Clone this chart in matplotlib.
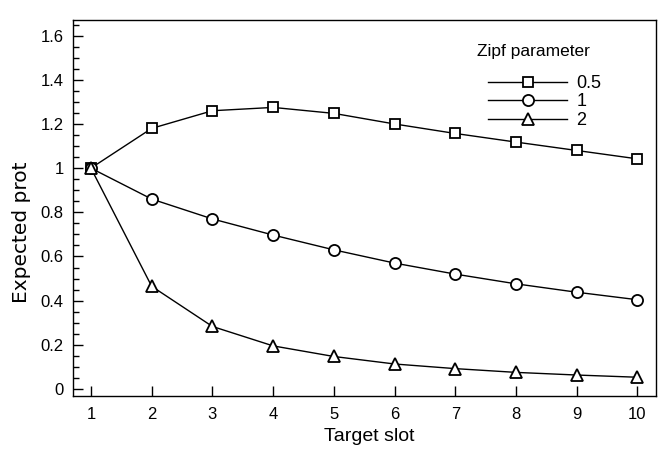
import numpy as np
import matplotlib.pyplot as plt
from matplotlib.ticker import MultipleLocator

plt.rcParams['font.family'] = ['Liberation Sans', 'DejaVu Sans']

slots = np.arange(1, 11)
zipf_labels = ['0.5', '1', '2']
prot_05 = [1.0, 1.18, 1.26, 1.275, 1.248, 1.2, 1.157, 1.118, 1.08, 1.042]
prot_1 = [1.0, 0.86, 0.77, 0.697, 0.63, 0.57, 0.52, 0.476, 0.438, 0.404]
prot_2 = [1.0, 0.465, 0.283, 0.195, 0.147, 0.113, 0.092, 0.075, 0.063, 0.053]
markers = ['s', 'o', '^']

W, H = 661, 449
fig = plt.figure(figsize=(W / 100, H / 100), dpi=100)
ax = fig.add_axes([0.110, 0.119, 0.882, 0.836])

for vals, m, lab in zip([prot_05, prot_1, prot_2], markers, zipf_labels):
    ax.plot(slots, vals, color='black', lw=1, marker=m, ms=8 if m != 's' else 7.5,
            mfc='white', mec='black', mew=1.3, label=lab)

ax.set_xlim(0.7, 10.3)
ax.set_ylim(-0.03, 1.67)
ax.set_xticks(slots)
ax.yaxis.set_minor_locator(MultipleLocator(0.05))
ax.set_yticks(np.arange(0, 1.61, 0.2))
ax.set_yticklabels(['0', '0.2', '0.4', '0.6', '0.8', '1', '1.2', '1.4', '1.6'])
ax.tick_params(which='both', direction='in', labelsize=12, top=False, right=False)
ax.tick_params(which='major', length=7, width=1)
ax.tick_params(which='minor', length=4, width=1)
ax.tick_params(axis='x', pad=8)
ax.tick_params(axis='y', pad=6.5)
for s in ax.spines.values():
    s.set_linewidth(1)

ax.set_xlabel('Target slot', fontsize=14, va='center')
ax.xaxis.set_label_coords(0.509, -0.108)
ax.set_ylabel('Expected prot', fontsize=14.5, va='center', family='DejaVu Sans')
ax.yaxis.set_label_coords(-0.087, 0.434)

# legend title placed separately (bigger gap than the entries)
fig.text(477 / W, 1 - 51.7 / H, 'Zipf parameter', fontsize=12.5, ha='left', va='center')
leg = ax.legend(frameon=False, fontsize=13, loc='upper left',
                bbox_to_anchor=(488 / W, 1 - 75 / H), bbox_transform=fig.transFigure,
                borderpad=0, borderaxespad=0, handlelength=4.4, handletextpad=0.5,
                labelspacing=0.08)

fig.savefig('out.png', dpi=100)
